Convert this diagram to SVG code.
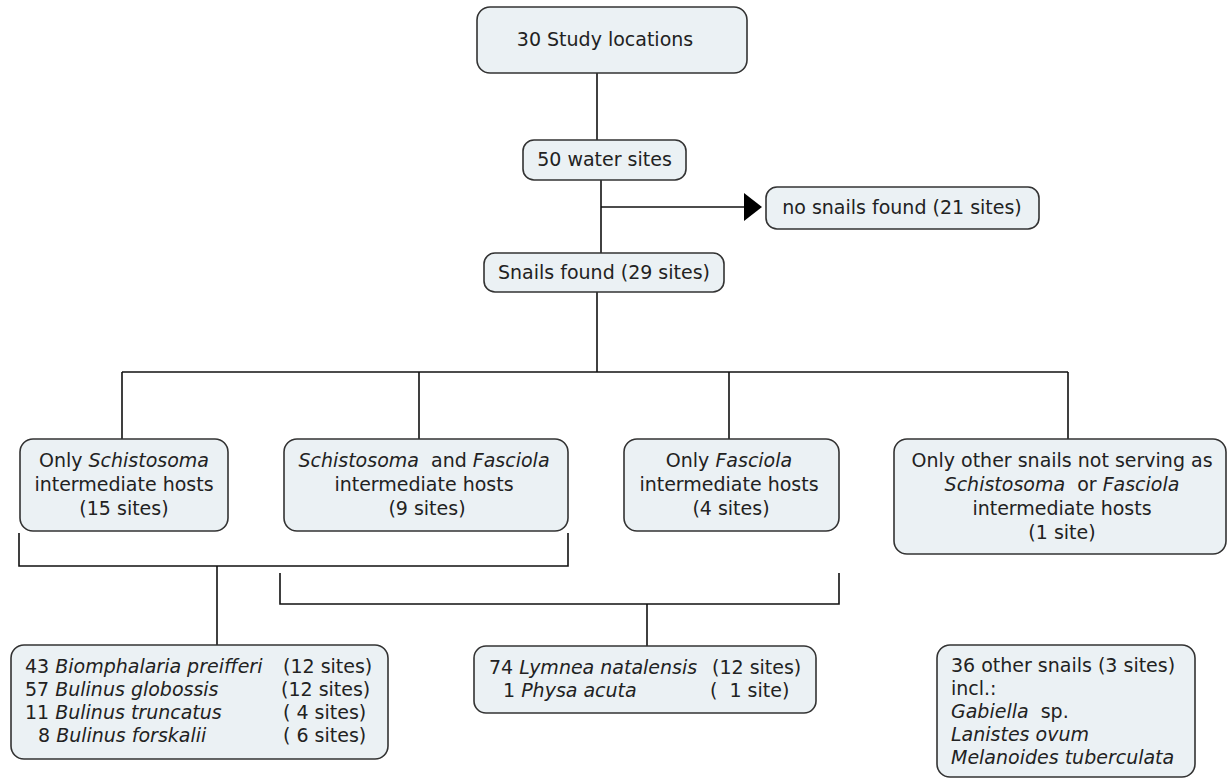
<svg xmlns="http://www.w3.org/2000/svg" width="1229" height="779" viewBox="0 0 1229 779">
<style>
.box{fill:#ebf1f4;stroke:#333;stroke-width:1.6}
.ln{fill:none;stroke:#111;stroke-width:1.6}
text{font-family:"DejaVu Sans","Verdana",sans-serif;font-size:19px;fill:#222}
.c{text-anchor:middle}
.i{font-style:italic}
</style>
<rect width="1229" height="779" fill="#ffffff"/>
<g id="connectors">
<path class="ln" d="M597,73V140"/>
<path class="ln" d="M601,180V253"/>
<path class="ln" d="M601,207H745"/>
<polygon points="744,193 762,207 744,221" fill="#000"/>
<path class="ln" d="M597,292V372"/>
<path class="ln" d="M122,372H1068"/>
<path class="ln" d="M122,372V439M419,372V439M729,372V439M1068,372V439"/>
<path class="ln" d="M19,533V566H568V533"/>
<path class="ln" d="M217,566V645"/>
<path class="ln" d="M280,573V604H839V573"/>
<path class="ln" d="M647,604V646"/>
</g>
<g id="n_study">
<rect class="box" x="477" y="7" width="270" height="66" rx="13"/>
<text class="c" x="605" y="46">30 Study locations</text>
</g>
<g id="n_water">
<rect class="box" x="523" y="140" width="163" height="40" rx="11"/>
<text class="c" x="604.5" y="166">50 water sites</text>
</g>
<g id="n_nosnails">
<rect class="box" x="766" y="187" width="273" height="42" rx="11"/>
<text class="c" x="902" y="214">no snails found (21 sites)</text>
</g>
<g id="n_snails">
<rect class="box" x="484" y="253" width="240" height="39" rx="11"/>
<text class="c" x="604" y="279">Snails found (29 sites)</text>
</g>
<g id="n_schisto">
<rect class="box" x="20" y="439" width="208" height="92" rx="13"/>
<text class="c" x="124" y="467">Only <tspan class="i">Schistosoma</tspan></text>
<text class="c" x="124" y="491">intermediate hosts</text>
<text class="c" x="124" y="515">(15 sites)</text>
</g>
<g id="n_both">
<rect class="box" x="284" y="439" width="284" height="92" rx="13"/>
<text class="c" x="424" y="467" xml:space="preserve"><tspan class="i">Schistosoma</tspan>  and <tspan class="i">Fasciola</tspan></text>
<text class="c" x="424" y="491">intermediate hosts</text>
<text class="c" x="427" y="515">(9 sites)</text>
</g>
<g id="n_fasciola">
<rect class="box" x="624" y="439" width="215" height="92" rx="13"/>
<text class="c" x="729" y="467">Only <tspan class="i">Fasciola</tspan></text>
<text class="c" x="729" y="491">intermediate hosts</text>
<text class="c" x="731" y="515">(4 sites)</text>
</g>
<g id="n_other">
<rect class="box" x="894" y="439" width="332" height="115" rx="13"/>
<text class="c" x="1062" y="467">Only other snails not serving as</text>
<text class="c" x="1062" y="491" xml:space="preserve"><tspan class="i">Schistosoma</tspan>  or <tspan class="i">Fasciola</tspan></text>
<text class="c" x="1062" y="515">intermediate hosts</text>
<text class="c" x="1062" y="539">(1 site)</text>
</g>
<g id="n_schisto_species">
<rect class="box" x="11" y="645" width="377" height="114" rx="13"/>
<text x="25" y="673">43 <tspan class="i">Biomphalaria preifferi</tspan></text>
<text x="283" y="673">(12 sites)</text>
<text x="25" y="696">57 <tspan class="i">Bulinus globossis</tspan></text>
<text x="281" y="696">(12 sites)</text>
<text x="25" y="719">11 <tspan class="i">Bulinus truncatus</tspan></text>
<text x="283" y="719">( 4 sites)</text>
<text x="38" y="742">8 <tspan class="i">Bulinus forskalii</tspan></text>
<text x="283" y="742">( 6 sites)</text>
</g>
<g id="n_fasciola_species">
<rect class="box" x="474" y="646" width="342" height="67" rx="12"/>
<text x="489" y="674">74 <tspan class="i">Lymnea natalensis</tspan></text>
<text x="712" y="674">(12 sites)</text>
<text x="503" y="697">1 <tspan class="i">Physa acuta</tspan></text>
<text x="710" y="697" xml:space="preserve">(  1 site)</text>
</g>
<g id="n_other_species">
<rect class="box" x="937" y="645" width="258" height="132" rx="13"/>
<text x="951" y="672">36 other snails (3 sites)</text>
<text x="951" y="695">incl.:</text>
<text x="951" y="718" xml:space="preserve"><tspan class="i">Gabiella</tspan>  sp.</text>
<text x="951" y="741" class="i">Lanistes ovum</text>
<text x="951" y="764" class="i">Melanoides tuberculata</text>
</g>
</svg>
